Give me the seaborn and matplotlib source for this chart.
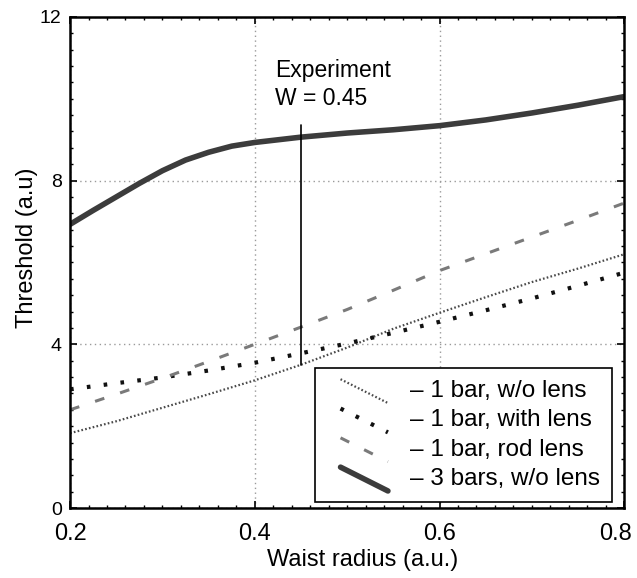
import numpy as np
import pandas as pd
import matplotlib
matplotlib.use("Agg")
import matplotlib.pyplot as plt
import matplotlib.transforms as mtransforms
from matplotlib.lines import Line2D
from matplotlib.legend_handler import HandlerLine2D
from matplotlib.ticker import MultipleLocator
import seaborn as sns

# Waist radius samples (a.u.) for the single-bar curves
waist = [0.20, 0.25, 0.30, 0.35, 0.40, 0.45, 0.50, 0.55, 0.60, 0.65, 0.70, 0.75, 0.80]

# Threshold curves (a.u.)
one_bar_no_lens = [1.83, 2.12, 2.45, 2.78, 3.12, 3.50, 3.92, 4.38, 4.77, 5.15, 5.52, 5.85, 6.20]
one_bar_with_lens = [2.90, 3.05, 3.19, 3.36, 3.55, 3.78, 4.02, 4.28, 4.55, 4.83, 5.12, 5.43, 5.75]
one_bar_rod_lens = [2.40, 2.78, 3.17, 3.58, 4.00, 4.42, 4.85, 5.32, 5.80, 6.21, 6.62, 7.03, 7.45]

# the 3-bar curve bends near the left edge, so it is sampled more densely there
waist_3bars = [0.200, 0.225, 0.250, 0.275, 0.300, 0.325, 0.350, 0.375, 0.400,
               0.450, 0.500, 0.550, 0.600, 0.650, 0.700, 0.750, 0.800]
three_bars_no_lens = [6.93, 7.27, 7.60, 7.93, 8.24, 8.50, 8.69, 8.84, 8.93,
                      9.06, 9.16, 9.24, 9.34, 9.48, 9.65, 9.84, 10.05]

series_labels = ["\u2013 1 bar, w/o lens", "\u2013 1 bar, with lens",
                 "\u2013 1 bar, rod lens", "\u2013 3 bars, w/o lens"]

x_ticks = [0.2, 0.4, 0.6, 0.8]
y_ticks = [0, 4, 8, 12]

exp_w = 0.45          # experimental waist radius
exp_top = 9.35        # upper end of the experiment marker

sns.set_style("ticks")
plt.rcParams["font.family"] = ["Liberation Sans", "DejaVu Sans"]
plt.rcParams["lines.scale_dashes"] = False
plt.rcParams["text.color"] = "black"
plt.rcParams["axes.labelcolor"] = "black"

fig = plt.figure(figsize=(6.37, 5.78), dpi=100)
ax = fig.add_axes([0.110, 0.121, 0.870, 0.850])

styles = [
    dict(color="#4a4a4a", linewidth=1.6, dashes=(1.2, 1.6)),
    dict(color="#111111", linewidth=3.0, dashes=(2.6, 9.6)),
    dict(color="#7a7a7a", linewidth=2.2, dashes=(7.0, 12.0)),
    dict(color="#3c3c3c", linewidth=4.0, dashes=None),
]
xs = [waist, waist, waist, waist_3bars]
values = [one_bar_no_lens, one_bar_with_lens, one_bar_rod_lens, three_bars_no_lens]

handles = []
for xv, vals, lab, st in zip(xs, values, series_labels, styles):
    df = pd.DataFrame({"waist": xv, "threshold": vals})
    sns.lineplot(data=df, x="waist", y="threshold", ax=ax, estimator=None,
                 color=st["color"], linewidth=st["linewidth"])
    line = ax.lines[-1]
    if st["dashes"] is not None:
        line.set_dashes(st["dashes"])
    line.set_label(lab)
    handles.append(line)

# experiment marker: vertical line at W from the single-bar curve up past the 3-bar curve
exp_bottom = float(np.interp(exp_w, waist, one_bar_no_lens))
ax.plot([exp_w, exp_w], [exp_bottom, exp_top], color="black", linewidth=1.2)
ax.text(0.4216, 10.54, "Experiment", fontsize=16.5, va="baseline", ha="left")
ax.text(0.4216, 9.85, f"W = {exp_w}", fontsize=16.5, va="baseline", ha="left")

ax.set_xlim(0.2, 0.8)
ax.set_ylim(0, 12)
ax.set_xticks(x_ticks)
ax.set_xticklabels([f"{t:g}" for t in x_ticks])
ax.set_yticks(y_ticks)
ax.set_yticklabels([f"{t:g}" for t in y_ticks])
ax.xaxis.set_minor_locator(MultipleLocator(0.02))
ax.yaxis.set_minor_locator(MultipleLocator(0.4))
ax.tick_params(which="both", direction="in", top=True, right=True, colors="black")
ax.tick_params(which="major", length=5, width=1.2)
ax.tick_params(which="minor", length=2.5, width=1.0)
ax.tick_params(axis="x", which="major", labelsize=17, pad=11)
ax.tick_params(axis="y", which="major", labelsize=14, pad=6)
ax.grid(True, which="major", linestyle=(0, (1, 2.5)), color="#9a9a9a", linewidth=1.0)

# keep the right-most x label inside the canvas
shift = mtransforms.ScaledTranslation(-6 / 72, 0, fig.dpi_scale_trans)
last = ax.get_xticklabels()[-1]
last.set_transform(last.get_transform() + shift)

for sp in ax.spines.values():
    sp.set_visible(True)
    sp.set_color("black")
    sp.set_linewidth(1.8)

ax.set_xlabel("Waist radius (a.u.)", fontsize=17)
ax.xaxis.set_label_coords(0.527, -0.083)
ax.set_ylabel("Threshold (a.u)", fontsize=17)
ax.yaxis.set_label_coords(-0.058, 0.53)


class SlantHandler(HandlerLine2D):
    """Draw legend keys as short descending diagonal strokes."""

    def create_artists(self, legend, orig_handle, xdescent, ydescent,
                       width, height, fontsize, trans):
        x0 = -xdescent + 0.22 * width
        x1 = -xdescent + width
        ln = Line2D([x0, x1], [height * 1.05, -height * 0.35])
        self.update_prop(ln, orig_handle, legend)
        ln.set_transform(trans)
        return [ln]


leg = ax.legend(handles=handles, labels=series_labels,
                handler_map={Line2D: SlantHandler()},
                loc="lower left", bbox_to_anchor=(0.442, 0.012),
                fontsize=17.5, frameon=True, fancybox=False, framealpha=1,
                edgecolor="black", handlelength=2.5, handletextpad=0.9,
                labelspacing=0.3, borderpad=0.5, borderaxespad=0)
leg.get_frame().set_linewidth(1.2)

fig.savefig("out.png", dpi=100)
